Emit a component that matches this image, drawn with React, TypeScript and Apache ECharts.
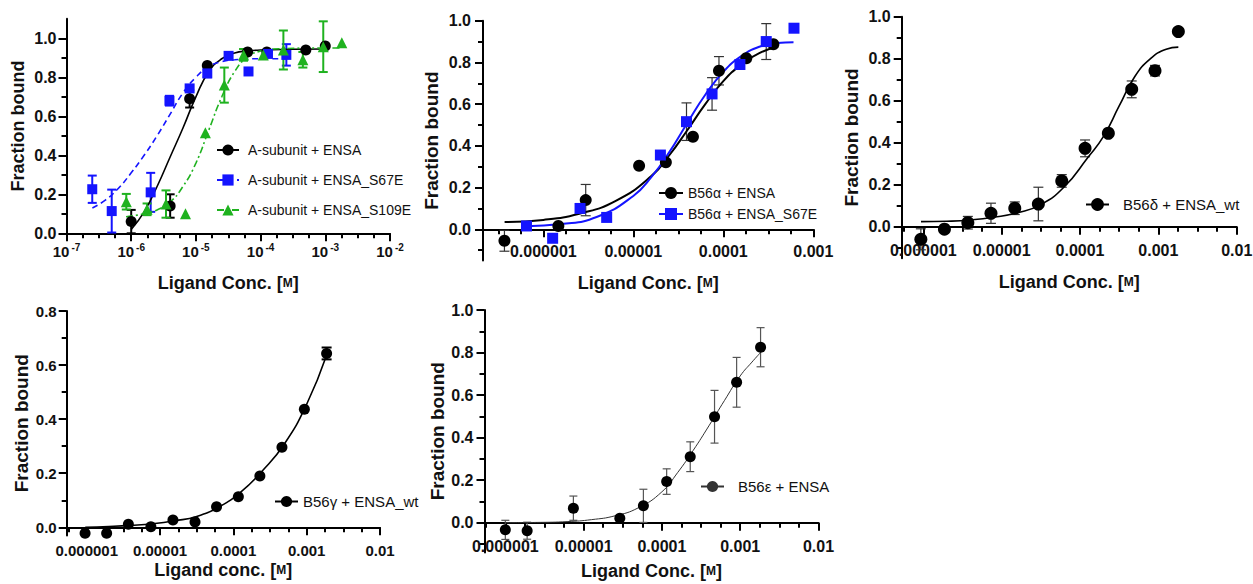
import React, { useEffect, useRef } from 'react';
import * as echarts from 'echarts';

const FONT = "'Liberation Sans', Arial, Helvetica, sans-serif";

// ---------------- Panel 1: A-subunit ----------------
const p1EnsaConc = [1.0e-6, 4.0e-6, 8.0e-6, 1.5e-5, 6.3e-5, 1.25e-4, 5.0e-4, 1.0e-3];
const p1EnsaVal = [0.06, 0.14, 0.69, 0.86, 0.93, 0.93, 0.94, 0.96];
const p1EnsaErr = [0.06, 0.06, 0.045, 0, 0, 0, 0, 0];
const p1S67Conc = [2.5e-7, 5.0e-7, 2.0e-6, 3.9e-6, 8.0e-6, 1.5e-5, 3.2e-5, 6.5e-5, 1.3e-4, 2.5e-4];
const p1S67Val = [0.226, 0.114, 0.21, 0.68, 0.743, 0.82, 0.91, 0.83, 0.92, 0.915];
const p1S67Err = [0.07, 0.11, 0.1, 0.025, 0, 0.02, 0, 0, 0, 0.055];
const p1S109Conc = [8.4e-7, 1.76e-6, 3.45e-6, 6.9e-6, 1.4e-5, 2.75e-5, 5.45e-5, 1.1e-4, 2.25e-4, 4.5e-4, 9.3e-4, 1.8e-3];
const p1S109Val = [0.162, 0.123, 0.15, 0.1, 0.516, 0.76, 0.915, 0.915, 0.94, 0.89, 0.957, 0.977];
const p1S109Err = [0.04, 0.03, 0.07, 0, 0, 0.09, 0.03, 0, 0.1, 0.04, 0.13, 0];
// fitted curves (log10 of molar concentration, fraction bound)
const p1EnsaFitLogC = [-6.0, -5.8, -5.6, -5.4, -5.2, -5.0, -4.8, -4.6, -4.4, -4.2, -4.0, -3.0];
const p1EnsaFitVal = [0.02, 0.11, 0.24, 0.39, 0.54, 0.7, 0.83, 0.895, 0.925, 0.935, 0.94, 0.945];
const p1S67FitLogC = [-6.6, -6.4, -6.2, -6.0, -5.8, -5.6, -5.4, -5.2, -5.0, -4.8, -4.6, -4.4, -4.0, -3.6];
const p1S67FitVal = [0.13, 0.17, 0.23, 0.31, 0.4, 0.5, 0.61, 0.72, 0.8, 0.855, 0.88, 0.89, 0.895, 0.895];
const p1S109FitLogC = [-6.08, -5.8, -5.6, -5.4, -5.2, -5.0, -4.8, -4.6, -4.4, -4.2, -4.0, -3.8, -3.0, -2.74];
const p1S109FitVal = [0.085, 0.1, 0.12, 0.16, 0.24, 0.36, 0.53, 0.7, 0.83, 0.905, 0.935, 0.945, 0.95, 0.95];
const p1XTickExps = [-7, -6, -5, -4, -3, -2];

// ---------------- Panel 2: B56alpha ----------------
const p2EnsaConc = [3.7e-7, 1.47e-6, 2.96e-6, 1.16e-5, 2.3e-5, 4.6e-5, 8.95e-5, 1.8e-4, 3.6e-4];
const p2EnsaVal = [-0.055, 0.016, 0.14, 0.305, 0.321, 0.444, 0.76, 0.82, 0.887];
const p2EnsaErr = [0.05, 0, 0.075, 0, 0, 0, 0.068, 0, 0];
const p2S67Conc = [6.5e-7, 1.27e-6, 2.56e-6, 5.06e-6, 2.0e-5, 3.9e-5, 7.5e-5, 1.53e-4, 3.0e-4, 6.1e-4];
const p2S67Val = [0.016, -0.043, 0.1, 0.057, 0.356, 0.516, 0.649, 0.79, 0.9, 0.964];
const p2S67Err = [0.02, 0, 0, 0, 0, 0.09, 0.078, 0.02, 0.086, 0];
const p2EnsaFitLogC = [-6.43, -6.0, -5.6, -5.2, -4.8, -4.6, -4.4, -4.2, -4.0, -3.8, -3.6, -3.39];
const p2EnsaFitVal = [0.035, 0.045, 0.075, 0.135, 0.255, 0.355, 0.475, 0.6, 0.71, 0.79, 0.845, 0.875];
const p2S67FitLogC = [-6.19, -5.8, -5.4, -5.0, -4.8, -4.6, -4.4, -4.2, -4.0, -3.8, -3.6, -3.4, -3.22];
const p2S67FitVal = [0.015, 0.025, 0.06, 0.16, 0.25, 0.37, 0.51, 0.645, 0.755, 0.83, 0.875, 0.893, 0.897];

// ---------------- Panel 3: B56delta ----------------
const p3Conc = [9.3e-7, 1.86e-6, 3.7e-6, 7.3e-6, 1.47e-5, 2.94e-5, 5.85e-5, 1.16e-4, 2.3e-4, 4.57e-4, 9.06e-4, 1.8e-3];
const p3Val = [-0.06, -0.012, 0.019, 0.064, 0.088, 0.108, 0.218, 0.373, 0.445, 0.654, 0.743, 0.929];
const p3Err = [0.05, 0, 0.03, 0.048, 0.03, 0.08, 0.03, 0.04, 0, 0.04, 0.025, 0];
const p3FitLogC = [-6.03, -5.7, -5.4, -5.1, -4.8, -4.5, -4.2, -3.9, -3.7, -3.5, -3.3, -3.1, -2.9, -2.745];
const p3FitVal = [0.024, 0.026, 0.032, 0.045, 0.066, 0.105, 0.19, 0.33, 0.43, 0.575, 0.715, 0.8, 0.845, 0.855];

// ---------------- Panel 4: B56gamma ----------------
const p4Conc = [9.5e-7, 1.87e-6, 3.7e-6, 7.5e-6, 1.5e-5, 3.0e-5, 5.9e-5, 1.17e-4, 2.3e-4, 4.6e-4, 9.3e-4, 1.87e-3];
const p4Val = [-0.022, -0.022, 0.011, 0.002, 0.027, 0.02, 0.076, 0.113, 0.19, 0.296, 0.437, 0.643];
const p4Err = [0, 0, 0, 0, 0, 0, 0, 0, 0, 0, 0, 0.022];
const p4FitLogC = [-6.02, -5.7, -5.4, -5.1, -4.8, -4.5, -4.2, -3.9, -3.6, -3.3, -3.0, -2.73];
const p4FitVal = [0.0, 0.003, 0.007, 0.013, 0.024, 0.04, 0.075, 0.13, 0.21, 0.31, 0.455, 0.635];

// ---------------- Panel 5: B56epsilon ----------------
const p5Conc = [1.0e-6, 1.9e-6, 7.4e-6, 2.9e-5, 5.8e-5, 1.15e-4, 2.3e-4, 4.7e-4, 9.0e-4, 1.82e-3];
const p5Val = [-0.034, -0.038, 0.068, 0.021, 0.079, 0.193, 0.31, 0.498, 0.66, 0.825];
const p5Err = [0.045, 0.04, 0.057, 0, 0.078, 0.06, 0.07, 0.124, 0.117, 0.092];
const p5FitLogC = [-6.0, -5.6, -5.2, -4.9, -4.6, -4.3, -4.0, -3.8, -3.6, -3.4, -3.2, -3.0, -2.85, -2.74];
const p5FitVal = [0.0, 0.001, 0.005, 0.014, 0.032, 0.07, 0.145, 0.235, 0.34, 0.455, 0.575, 0.69, 0.755, 0.8];

// decimal tick labels (panels 2-5)
const decTickConc = [1e-6, 1e-5, 1e-4, 1e-3, 1e-2];
const decTickLabels = ['0.000001', '0.00001', '0.0001', '0.001', '0.01'];
const yLabelValues = [0, 0.2, 0.4, 0.6, 0.8, 1.0];

const lg = (c: number) => Math.log10(c);
const pts = (conc: number[], val: number[]) => conc.map((c, i) => [lg(c), val[i]]);
const fit = (lc: number[], val: number[]) => lc.map((c, i) => [c, val[i]]);
const bars = (conc: number[], val: number[], err: number[]) =>
  conc.map((c, i) => [lg(c), val[i] - err[i], val[i] + err[i], err[i]]).filter((d) => d[3] > 0);

function steps(from: number, to: number, step: number) {
  const out: number[] = [];
  const start = Math.ceil(from / step - 1e-9);
  for (let k = start; k * step <= to + 1e-9; k++) out.push(+(k * step).toFixed(4));
  return out;
}
const without = (all: number[], majors: number[]) => all.filter((v) => !majors.some((m) => Math.abs(m - v) < 1e-6));

const titleStyle = (size: number) => ({
  fontFamily: FONT,
  fontWeight: 'bold' as const,
  fontSize: size,
  color: '#111',
  rich: { sc: { fontFamily: FONT, fontWeight: 'bold' as const, fontSize: Math.round(size * 0.68), color: '#111' } },
});

function errSeries(idx: number, data: number[][], color: string, width: number, cap: number) {
  return {
    type: 'custom',
    xAxisIndex: idx,
    yAxisIndex: idx,
    data,
    z: 2,
    silent: true,
    renderItem: (_p: any, api: any) => {
      const x = api.value(0);
      const a = api.coord([x, api.value(1)]);
      const b = api.coord([x, api.value(2)]);
      const st = { stroke: color, lineWidth: width };
      return {
        type: 'group',
        children: [
          { type: 'line', shape: { x1: a[0], y1: a[1], x2: b[0], y2: b[1] }, style: st },
          { type: 'line', shape: { x1: a[0] - cap, y1: a[1], x2: a[0] + cap, y2: a[1] }, style: st },
          { type: 'line', shape: { x1: b[0] - cap, y1: b[1], x2: b[0] + cap, y2: b[1] }, style: st },
        ],
      };
    },
  };
}

function curveSeries(idx: number, name: string, data: number[][], color: string, width: number, type: any, symbol: string) {
  return {
    type: 'line',
    name,
    xAxisIndex: idx,
    yAxisIndex: idx,
    data,
    smooth: 0.5,
    showSymbol: false,
    symbol,
    color,
    lineStyle: { color, width, type },
    itemStyle: { color },
    z: 3,
    silent: true,
  };
}

function pointSeries(idx: number, name: string, data: number[][], color: string, symbol: string, size: number) {
  return {
    type: 'scatter',
    name,
    xAxisIndex: idx,
    yAxisIndex: idx,
    data,
    symbol,
    symbolSize: size,
    color,
    itemStyle: { color, opacity: 1 },
    z: 4,
    silent: true,
  };
}

const LINE = { color: '#000', width: 2 };

function xAxis(idx: number, min: number, max: number, majors: number[], fmt: (v: number) => string, name: string, nameGap: number, margin: number, labelSize: number, offset: number, rich?: any) {
  return {
    type: 'value',
    gridIndex: idx,
    position: 'bottom',
    offset,
    min,
    max,
    axisLine: { show: true, onZero: false, lineStyle: LINE },
    axisTick: { show: true, customValues: without(steps(min, max, 0.25), majors), length: 5, lineStyle: LINE },
    axisLabel: {
      show: true,
      customValues: majors,
      formatter: fmt,
      margin,
      fontFamily: FONT,
      fontWeight: 'bold',
      fontSize: labelSize,
      color: '#111',
      ...(rich ? { rich } : {}),
    },
    splitLine: { show: false },
    name,
    nameLocation: 'middle',
    nameGap,
    nameMoveOverlap: false,
    nameTextStyle: titleStyle(18),
  };
}

// overlay axis that only draws the longer major ticks
function xMajorTicks(idx: number, min: number, max: number, majors: number[], offset: number) {
  return {
    type: 'value',
    gridIndex: idx,
    position: 'bottom',
    offset,
    min,
    max,
    axisLine: { show: false, onZero: false },
    axisTick: { show: true, customValues: majors, length: 8, lineStyle: LINE },
    axisLabel: { show: false },
    splitLine: { show: false },
  };
}

function yAxis(idx: number, min: number, max: number, majors: number[], tickMin: number, tickMax: number, nameGap: number, margin: number, labelSize: number, nameSize: number) {
  return {
    type: 'value',
    gridIndex: idx,
    position: 'left',
    min,
    max,
    axisLine: { show: true, onZero: false, lineStyle: LINE },
    axisTick: { show: true, customValues: without(steps(tickMin, tickMax, 0.1), majors), length: 5, lineStyle: LINE },
    axisLabel: {
      show: true,
      customValues: majors,
      formatter: (v: number) => v.toFixed(1),
      margin,
      fontFamily: FONT,
      fontWeight: 'bold',
      fontSize: labelSize,
      color: '#111',
    },
    splitLine: { show: false },
    name: 'Fraction bound',
    nameLocation: 'middle',
    nameGap,
    nameMoveOverlap: false,
    nameTextStyle: titleStyle(nameSize),
  };
}

function yMajorTicks(idx: number, min: number, max: number, majors: number[]) {
  return {
    type: 'value',
    gridIndex: idx,
    position: 'left',
    min,
    max,
    axisLine: { show: false, onZero: false },
    axisTick: { show: true, customValues: majors, length: 8, lineStyle: LINE },
    axisLabel: { show: false },
    splitLine: { show: false },
  };
}

const decFmt = (v: number) => {
  const i = decTickConc.findIndex((c) => Math.abs(lg(c) - v) < 1e-6);
  return i >= 0 ? decTickLabels[i] : '';
};

function legend(left: number, top: number, names: string[], itemWidth: number, itemHeight: number, itemGap: number, fontSize: number, padLeft: number) {
  return {
    show: true,
    orient: 'vertical',
    left,
    top,
    padding: 0,
    itemWidth,
    itemHeight,
    itemGap,
    selectedMode: false,
    data: names,
    textStyle: { fontFamily: FONT, fontSize, color: '#111', padding: [0, 0, 0, padLeft] },
  };
}

type GridSpec = { left: number; top: number; width: number; height: number };
// offset that lifts a bottom x axis from the grid's bottom edge to the y = 0 line
const zeroOffset = (g: GridSpec, yMin: number, yMax: number) => -(g.height * (0 - yMin)) / (yMax - yMin);

export default function App() {
  const ref = useRef<HTMLDivElement>(null);
  useEffect(() => {
    if (!ref.current) return;
    const chart = echarts.init(ref.current, undefined, { renderer: 'svg' });

    const BLUE = '#1414FF';
    const GREEN = '#1FB21F';
    const n1 = ['A-subunit + ENSA', 'A-subunit + ENSA_S67E', 'A-subunit + ENSA_S109E'];
    const n2 = ['B56α + ENSA', 'B56α + ENSA_S67E'];
    const n3 = 'B56δ + ENSA_wt';
    const n4 = 'B56γ + ENSA_wt';
    const n5 = 'B56ε + ENSA';

    const grids: GridSpec[] = [
      { left: 66.5, top: 18.8, width: 323.5, height: 214.5 },
      { left: 483, top: 20.7, width: 330.3, height: 239.9 },
      { left: 901.7, top: 16.7, width: 335, height: 241.5 },
      { left: 66.7, top: 311, width: 313.3, height: 224.4 },
      { left: 484.5, top: 310, width: 334, height: 242.4 },
    ];
    const yRange = [
      [0, 1.1],
      [-0.15, 1.0],
      [-0.15, 1.0],
      [-0.03, 0.8],
      [-0.14, 1.0],
    ];
    const yTickRange = [
      [0, 1.0],
      [-0.1, 1.0],
      [-0.1, 1.0],
      [0, 0.8],
      [-0.1, 1.0],
    ];
    const yMajors = [yLabelValues, yLabelValues, yLabelValues, yLabelValues.slice(0, 5), yLabelValues];
    const xRange = [
      [-7, -2],
      [-6.67, -3],
      [-6.276, -2],
      [-6.273, -2],
      [-6.266, -2],
    ];
    const off = grids.map((g, i) => zeroOffset(g, yRange[i][0], yRange[i][1]));
    const decMajors = (min: number, max: number) => decTickConc.map(lg).filter((v) => v >= min - 1e-9 && v <= max + 1e-9);
    const xMajors = xRange.map((r, i) => (i === 0 ? p1XTickExps.slice() : decMajors(r[0], r[1])));

    const supRich = {
      b: { fontFamily: FONT, fontWeight: 'bold', fontSize: 15, color: '#111', lineHeight: 18 },
      s: { fontFamily: FONT, fontWeight: 'bold', fontSize: 10, color: '#111', verticalAlign: 'top', lineHeight: 18, padding: [0, 0, 0, 2] },
    };

    const xNames = ['Ligand Conc. [{sc|M}]', 'Ligand Conc. [{sc|M}]', 'Ligand Conc. [{sc|M}]', 'Ligand conc. [{sc|M}]', 'Ligand Conc. [{sc|M}]'];
    const xNameGap = [41, 45, 46, 34, 39];
    const xLabelMargin = [9, 14, 16, 16, 16];
    const xLabelSize = [15, 16, 16, 15, 16];
    const yNameGap = [40, 42, 40.5, 35.5, 38];
    const yNameSize = [18, 19, 19, 19, 19];
    const yLabelMargin = [10, 12, 11, 10, 11];
    const yLabelSize = [16, 16, 16, 15, 16];

    const option: any = {
      animation: false,
      backgroundColor: '#fff',
      textStyle: { fontFamily: FONT },
      tooltip: { show: false },
      grid: grids.map((g) => ({ ...g, containLabel: false, outerBoundsMode: 'none' })),
      xAxis: [
        ...xRange.map((r, i) =>
          xAxis(i, r[0], r[1], xMajors[i], i === 0 ? (v: number) => `{b|10}{s|${Math.round(v)}}` : decFmt, xNames[i], xNameGap[i], xLabelMargin[i], xLabelSize[i], off[i], i === 0 ? supRich : undefined)
        ),
        ...xRange.map((r, i) => xMajorTicks(i, r[0], r[1], xMajors[i], off[i])),
      ],
      yAxis: [
        ...yRange.map((r, i) =>
          yAxis(i, r[0], r[1], yMajors[i], yTickRange[i][0], yTickRange[i][1], yNameGap[i], yLabelMargin[i], yLabelSize[i], yNameSize[i])
        ),
        ...yRange.map((r, i) => yMajorTicks(i, r[0], r[1], yMajors[i])),
      ],
      legend: [
        legend(216, 143, n1, 22, 14, 16, 14, 4),
        legend(658, 186, n2, 24, 15, 7, 14, 0),
        legend(1085, 197, [n3], 23, 16, 8, 15, 9),
        legend(274, 494, [n4], 23, 14, 8, 15, 0),
        legend(700, 479, [n5], 23, 14, 8, 15, 9),
      ],
      series: [
        // panel 1
        curveSeries(0, n1[0], fit(p1EnsaFitLogC, p1EnsaFitVal), '#000', 1.6, 'solid', 'circle'),
        curveSeries(0, n1[1], fit(p1S67FitLogC, p1S67FitVal), BLUE, 1.6, [6, 4], 'rect'),
        curveSeries(0, n1[2], fit(p1S109FitLogC, p1S109FitVal), GREEN, 1.6, [7, 3, 2, 3], 'triangle'),
        errSeries(0, bars(p1EnsaConc, p1EnsaVal, p1EnsaErr), '#000', 2, 4.5),
        errSeries(0, bars(p1S67Conc, p1S67Val, p1S67Err), BLUE, 2, 4.5),
        errSeries(0, bars(p1S109Conc, p1S109Val, p1S109Err), GREEN, 2, 4.5),
        pointSeries(0, n1[0], pts(p1EnsaConc, p1EnsaVal), '#000', 'circle', 11),
        pointSeries(0, n1[1], pts(p1S67Conc, p1S67Val), BLUE, 'rect', 10),
        pointSeries(0, n1[2], pts(p1S109Conc, p1S109Val), GREEN, 'triangle', 11),
        // panel 2
        curveSeries(1, n2[0], fit(p2EnsaFitLogC, p2EnsaFitVal), '#000', 2, 'solid', 'circle'),
        curveSeries(1, n2[1], fit(p2S67FitLogC, p2S67FitVal), BLUE, 2, 'solid', 'rect'),
        errSeries(1, bars(p2EnsaConc, p2EnsaVal, p2EnsaErr), '#333', 1.2, 5),
        errSeries(1, bars(p2S67Conc, p2S67Val, p2S67Err), '#333', 1.2, 5),
        pointSeries(1, n2[0], pts(p2EnsaConc, p2EnsaVal), '#000', 'circle', 12),
        pointSeries(1, n2[1], pts(p2S67Conc, p2S67Val), BLUE, 'rect', 11),
        // panel 3
        curveSeries(2, n3, fit(p3FitLogC, p3FitVal), '#000', 1.6, 'solid', 'circle'),
        errSeries(2, bars(p3Conc, p3Val, p3Err), '#333', 1.2, 5),
        pointSeries(2, n3, pts(p3Conc, p3Val), '#000', 'circle', 13),
        // panel 4
        curveSeries(3, n4, fit(p4FitLogC, p4FitVal), '#000', 1.6, 'solid', 'circle'),
        errSeries(3, bars(p4Conc, p4Val, p4Err), '#000', 2, 5),
        pointSeries(3, n4, pts(p4Conc, p4Val), '#000', 'circle', 11),
        // panel 5
        curveSeries(4, n5, fit(p5FitLogC, p5FitVal), '#333', 1, 'solid', 'circle'),
        errSeries(4, bars(p5Conc, p5Val, p5Err), '#555', 1.2, 4),
        pointSeries(4, n5, pts(p5Conc, p5Val), '#000', 'circle', 11),
      ],
    };
    chart.setOption(option);
    return () => chart.dispose();
  }, []);

  return (
    <div
      ref={ref}
      style={{ position: 'absolute', left: 0, top: 0, width: 1253, height: 584, background: '#fff' }}
    />
  );
}
